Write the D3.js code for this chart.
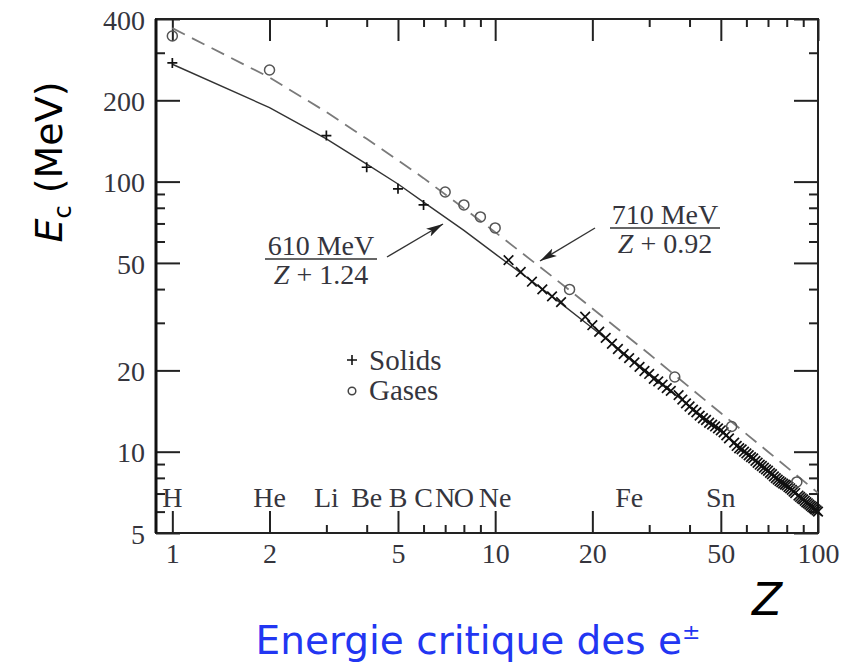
<!DOCTYPE html>
<html>
<head>
<meta charset="utf-8">
<script src="https://cdn.jsdelivr.net/npm/d3@7"></script>
<style>
  body { margin: 0; background: #fff; }
  svg { display: block; }
  .serif { font-family: 'Liberation Serif', serif; fill: #35353d; }
</style>
</head>
<body>
<svg id="chart" width="850" height="667"></svg>
<script>
// solids (+) : atomic number and critical energy (MeV)
const solidZ = [1, 3, 4, 5, 6, 11, 12, 13, 14, 15, 16, 19, 20, 21, 22, 23, 24, 25, 26, 27, 28, 29, 30,
  31, 32, 33, 34, 35, 37, 38, 39, 40, 41, 42, 43, 44, 45, 46, 47, 48, 49, 50, 51, 52, 53, 55, 56, 57,
  58, 59, 60, 61, 62, 63, 64, 65, 66, 67, 68, 69, 70, 71, 72, 73, 74, 75, 76, 77, 78, 79, 80, 81, 82,
  83, 84, 85, 87, 88, 89, 90, 91, 92, 93, 94, 95, 96, 97, 98, 99, 100]
const solidEc = [275, 148, 113, 94, 82, 51.2, 46.3, 42.6, 39.9, 37.6, 35.8, 31.6, 29.4, 27.8, 26.4, 25.1,
  24.0, 23.0, 22.2, 21.4, 20.6, 19.9, 19.4, 18.6, 18.2, 17.7, 17.2, 16.8, 16.2, 15.6, 15.1, 14.7, 14.3,
  14.0, 13.6, 13.3, 13.1, 12.8, 12.6, 12.4, 12.2, 12.0, 11.8, 11.5, 11.2, 10.8, 10.5, 10.3, 10.2, 10.0,
  9.85, 9.7, 9.55, 9.45, 9.25, 9.1, 8.95, 8.85, 8.72, 8.6, 8.5, 8.35, 8.25, 8.1, 7.98, 7.88, 7.78, 7.7,
  7.62, 7.55, 7.5, 7.4, 7.32, 7.22, 7.12, 7.03, 6.88, 6.8, 6.72, 6.66, 6.58, 6.5, 6.44, 6.37, 6.3, 6.24,
  6.18, 6.12, 6.06, 6.0]

// gases (o)
const gasZ = [1, 2, 7, 8, 9, 10, 17, 36, 54, 86]
const gasEc = [346, 259, 91.5, 82, 74, 67.4, 39.9, 18.9, 12.4, 7.73]

// fitted curves, read at these Z
const curveZ = [1, 2, 3, 4, 5, 6, 8, 10, 15, 20, 30, 50, 70, 100]
const solidCurve = [272, 188, 144, 116, 98, 84, 66, 54, 37.6, 28.7, 19.5, 11.9, 8.56, 6.03]
const gasCurve = [370, 243, 181, 144, 120, 103, 79.6, 65, 44.6, 33.9, 23, 13.9, 10.0, 7.04]

// element names along the bottom
const elemNames = ['H', 'He', 'Li', 'Be', 'B', 'C', 'N', 'O', 'Ne', 'Fe', 'Sn']
const elemZ = [1, 2, 3, 4, 5, 6, 7, 8, 10, 26, 50]

const xMajor = [1, 2, 5, 10, 20, 50, 100]
const xMinor = [3, 4, 6, 7, 8, 9, 30, 40, 60, 70, 80, 90]
const yMajor = [5, 10, 20, 50, 100, 200, 400]
const yMinor = [6, 7, 8, 9, 30, 40, 60, 70, 80, 90, 300]

const plotL = 156, plotR = 818, plotT = 19, plotB = 533
const svg = d3.select('#chart')
const x = d3.scaleLog().domain([0.89, 100]).range([plotL, plotR])
const y = d3.scaleLog().domain([5, 400]).range([plotB, plotT])

function styleAxis (g) {
  g.select('.domain').remove()
  g.selectAll('.tick line').attr('stroke', '#222').attr('stroke-width', 2)
  g.selectAll('.tick text').attr('class', 'serif').attr('font-size', 28).attr('fill', '#35353d')
}

// major ticks with labels
svg.append('g').attr('transform', `translate(0,${plotB})`)
  .call(d3.axisBottom(x).tickValues(xMajor).tickFormat(d3.format('d')).tickSize(-22).tickPadding(10))
  .call(styleAxis)
svg.append('g').attr('transform', `translate(0,${plotT})`)
  .call(d3.axisTop(x).tickValues(xMajor).tickFormat('').tickSize(-22))
  .call(styleAxis)
svg.append('g').attr('transform', `translate(${plotL},0)`)
  .call(d3.axisLeft(y).tickValues(yMajor).tickFormat(d3.format('d')).tickSize(-24).tickPadding(11))
  .call(styleAxis)
  .selectAll('.tick text').attr('dy', '0.36em')
svg.append('g').attr('transform', `translate(${plotR},0)`)
  .call(d3.axisRight(y).tickValues(yMajor).tickFormat('').tickSize(-24))
  .call(styleAxis)

// minor ticks
svg.append('g').attr('transform', `translate(0,${plotB})`)
  .call(d3.axisBottom(x).tickValues(xMinor).tickFormat('').tickSize(-8)).call(styleAxis)
svg.append('g').attr('transform', `translate(0,${plotT})`)
  .call(d3.axisTop(x).tickValues(xMinor).tickFormat('').tickSize(-8)).call(styleAxis)
svg.append('g').attr('transform', `translate(${plotL},0)`)
  .call(d3.axisLeft(y).tickValues(yMinor).tickFormat('').tickSize(-9)).call(styleAxis)
svg.append('g').attr('transform', `translate(${plotR},0)`)
  .call(d3.axisRight(y).tickValues(yMinor).tickFormat('').tickSize(-9)).call(styleAxis)

// frame
svg.append('rect')
  .attr('x', plotL).attr('y', plotT).attr('width', plotR - plotL).attr('height', plotB - plotT)
  .attr('fill', 'none').attr('stroke', '#222').attr('stroke-width', 2)
svg.append('line').attr('x1', plotL).attr('x2', plotL).attr('y1', plotT).attr('y2', plotB)
  .attr('stroke', '#111').attr('stroke-width', 3)

// curves
const line = d3.line().x(d => x(d[0])).y(d => y(d[1]))
svg.append('path').datum(curveZ.map((z, i) => [z, gasCurve[i]]))
  .attr('d', line).attr('fill', 'none').attr('stroke', '#7a7a7a')
  .attr('stroke-width', 1.8).attr('stroke-dasharray', '14,8')
svg.append('path').datum(curveZ.map((z, i) => [z, solidCurve[i]]))
  .attr('d', line).attr('fill', 'none').attr('stroke', '#333').attr('stroke-width', 1.4)

// markers: upright crosses for light elements, slanted ones past Ne
const plus = 'M-5,0H5M0,-5V5'
const cross = 'M-4.8,-4.8L4.8,4.8M-4.8,4.8L4.8,-4.8'
svg.append('g').selectAll('path').data(solidZ.map((z, i) => [z, solidEc[i]])).join('path')
  .attr('d', d => d[0] > 10 ? cross : plus)
  .attr('transform', d => `translate(${x(d[0])},${y(d[1])})`)
  .attr('stroke', '#111').attr('stroke-width', 1.7).attr('fill', 'none')
svg.append('g').selectAll('circle').data(gasZ.map((z, i) => [z, gasEc[i]])).join('circle')
  .attr('cx', d => x(d[0])).attr('cy', d => y(d[1])).attr('r', 5)
  .attr('fill', 'none').attr('stroke', '#555').attr('stroke-width', 1.5)

// element labels
svg.append('g').selectAll('text').data(elemZ).join('text')
  .attr('class', 'serif').attr('font-size', 28).attr('text-anchor', 'middle')
  .attr('x', d => x(d)).attr('y', 507)
  .text((d, i) => elemNames[i])

// legend
svg.append('path').attr('d', plus).attr('transform', 'translate(352,360)')
  .attr('stroke', '#111').attr('stroke-width', 1.6)
svg.append('circle').attr('cx', 352).attr('cy', 391).attr('r', 3.8)
  .attr('fill', 'none').attr('stroke', '#444').attr('stroke-width', 1.5)
svg.append('text').attr('class', 'serif').attr('font-size', 29).attr('x', 369).attr('y', 370).text('Solids')
svg.append('text').attr('class', 'serif').attr('font-size', 29).attr('x', 369).attr('y', 400).text('Gases')

// formulas with arrows
svg.append('defs').append('marker')
  .attr('id', 'head').attr('viewBox', '-17 -5 17 10')
  .attr('refX', 0).attr('refY', 0).attr('markerWidth', 17).attr('markerHeight', 10)
  .attr('markerUnits', 'userSpaceOnUse').attr('orient', 'auto')
  .append('path').attr('d', 'M-17,-4.5L0,0L-17,4.5L-13,0Z').attr('fill', '#222')

function fraction (cx, num, den, barY, halfW) {
  svg.append('text').attr('class', 'serif').attr('font-size', 28).attr('text-anchor', 'middle')
    .attr('x', cx).attr('y', barY - 4).text(num)
  svg.append('line').attr('x1', cx - halfW).attr('x2', cx + halfW).attr('y1', barY).attr('y2', barY)
    .attr('stroke', '#333').attr('stroke-width', 1.6)
  const t = svg.append('text').attr('class', 'serif').attr('font-size', 28).attr('text-anchor', 'middle')
    .attr('x', cx).attr('y', barY + 25)
  t.append('tspan').attr('font-style', 'italic').text('Z')
  t.append('tspan').text(' + ' + den)
}
fraction(321, '610 MeV', '1.24', 259, 56)
fraction(665, '710 MeV', '0.92', 228, 55)

svg.append('line').attr('x1', 387).attr('y1', 257).attr('x2', 443).attr('y2', 224)
  .attr('stroke', '#333').attr('stroke-width', 1.4).attr('marker-end', 'url(#head)')
svg.append('line').attr('x1', 595).attr('y1', 228).attr('x2', 540).attr('y2', 261)
  .attr('stroke', '#333').attr('stroke-width', 1.4).attr('marker-end', 'url(#head)')

// axis titles
const yt = svg.append('text').attr('transform', 'translate(62,162) rotate(-90)')
  .attr('text-anchor', 'middle').attr('font-family', 'DejaVu Sans').attr('font-size', 38).attr('fill', '#000')
yt.append('tspan').attr('font-style', 'italic').text('E')
yt.append('tspan').attr('font-size', 24).attr('dy', 9).text('c')
yt.append('tspan').attr('dy', -9).text(' (MeV)')

svg.append('text').attr('x', 752).attr('y', 615)
  .attr('font-family', 'DejaVu Sans').attr('font-style', 'italic').attr('font-size', 44).attr('fill', '#000')
  .text('Z')

const title = svg.append('text').attr('x', 478).attr('y', 654).attr('text-anchor', 'middle')
  .attr('font-family', 'DejaVu Sans').attr('font-size', 39).attr('fill', '#2236f2')
title.append('tspan').text('Energie critique des e')
title.append('tspan').attr('font-size', 22).attr('dy', -15).text('±')
</script>
</body>
</html>
